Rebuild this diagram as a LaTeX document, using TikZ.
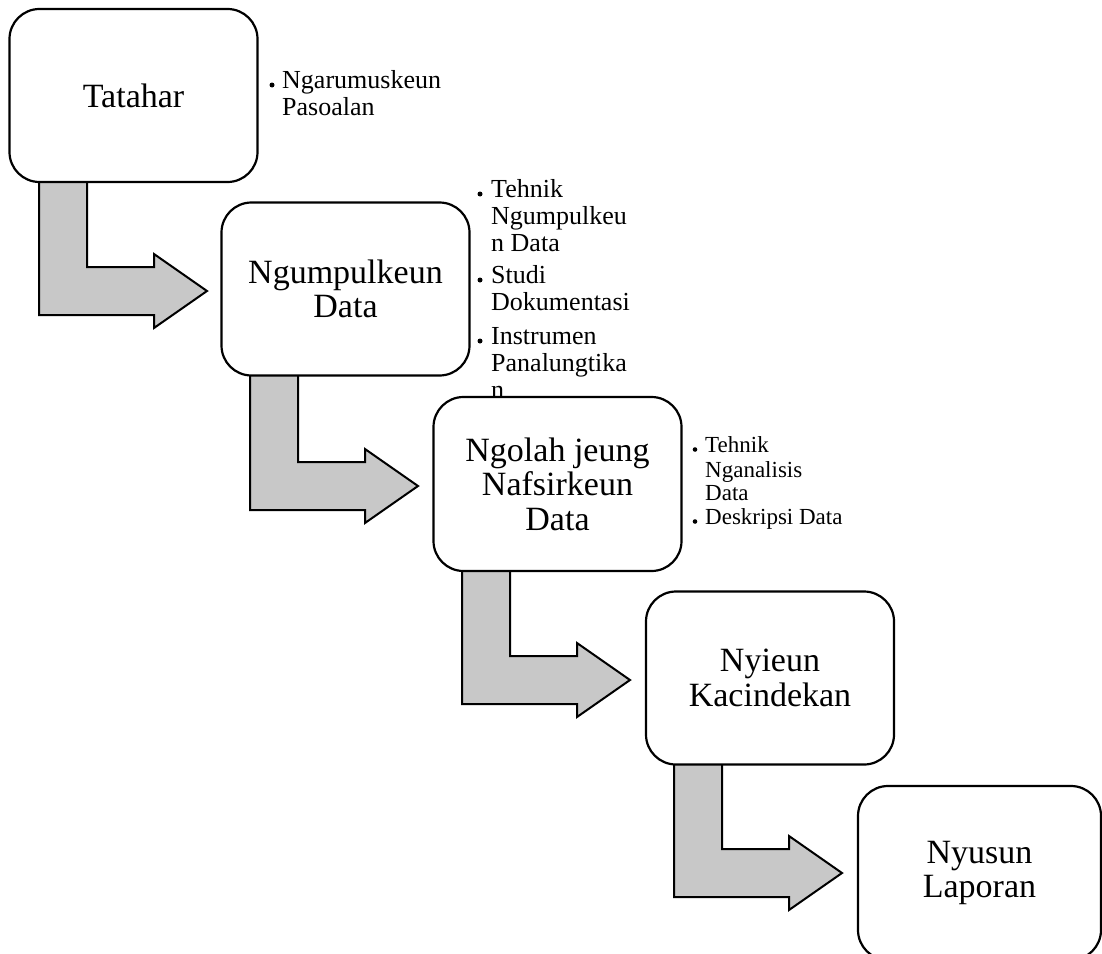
\documentclass[tikz,border=0pt]{standalone}
\usepackage{fontspec}
\setmainfont{Liberation Serif}
\definecolor{arrowgray}{HTML}{C8C8C8}
\tikzset{
  stage/.style={draw=black, line width=2.2pt, rounded corners=30pt, fill=white,
    minimum width=248pt, minimum height=173pt, align=center, inner sep=0pt,
    font=\fontsize{34}{34.5}\selectfont},
  bentarr/.style={draw=black, line width=2pt, fill=arrowgray, line join=miter},
  itemline/.style={anchor=base west, inner sep=0pt, font=\fontsize{26}{27}\selectfont},
  smallitem/.style={anchor=base west, inner sep=0pt, font=\fontsize{23}{24}\selectfont},
  bdot/.style={fill=black}
}
% #1 stem left x, #2 stem top y, #3 inner (upper) y of horizontal bar
\newcommand\bentarrow[3]{%
  \draw[bentarr] (#1,{-(#2-6)}) -- (#1,{-(#3+48)}) -- ({#1+115},{-(#3+48)})
    -- ({#1+115},{-(#3+61)}) -- ({#1+168},{-(#3+24)}) -- ({#1+115},{-(#3-13)})
    -- ({#1+115},-#3) -- ({#1+48},-#3) -- ({#1+48},{-(#2-6)}) -- cycle;}
\begin{document}
\begin{tikzpicture}[x=1pt,y=1pt]
\useasboundingbox (0,0) rectangle (1102,-953);
\clip (0,0) rectangle (1102,-953);

% bent block arrows
\bentarrow{39}{182}{267}
\bentarrow{250}{375}{462}
\bentarrow{462}{571}{656}
\bentarrow{674}{764}{849}

% bullet lists
\fill[bdot] (272,-85) circle (2.5);
\node[itemline] (l1a) at (282,-88) {Ngarumuskeun};
\node[itemline] (l1b) at (282,-115) {Pasoalan};

\fill[bdot] (480,-194) circle (2.5);
\node[itemline] (l2a) at (491,-197) {Tehnik};
\node[itemline] (l2b) at (491,-224) {Ngumpulkeu};
\node[itemline] (l2c) at (491,-251) {n Data};
\fill[bdot] (480,-280) circle (2.5);
\node[itemline] (l2d) at (491,-283) {Studi};
\node[itemline] (l2e) at (491,-310) {Dokumentasi};
\fill[bdot] (480,-341) circle (2.5);
\node[itemline] (l2f) at (491,-344) {Instrumen};
\node[itemline] (l2g) at (491,-371) {Panalungtika};
\node[itemline] (l2h) at (491,-398) {n};

\fill[bdot] (695,-449.5) circle (2.3);
\node[smallitem] (l3a) at (705,-452) {Tehnik};
\node[smallitem] (l3b) at (705,-477) {Nganalisis};
\node[smallitem] (l3c) at (705,-500) {Data};
\fill[bdot] (695,-521.5) circle (2.3);
\node[smallitem] (l3d) at (705,-524) {Deskripsi Data};

% stage boxes
\node[stage] (b1) at (133.5,-95.5) {Tatahar};
\node[stage] (b2) at (345.5,-289) {Ngumpulkeun\\Data};
\node[stage, minimum height=174pt] (b3) at (557.5,-484) {Ngolah jeung\\Nafsirkeun\\Data};
\node[stage] (b4) at (770,-678) {Nyieun\\Kacindekan};
\node[stage, minimum width=243pt, minimum height=174pt] (b5) at (979.5,-873) {Nyusun\\Laporan};
\end{tikzpicture}
\end{document}
